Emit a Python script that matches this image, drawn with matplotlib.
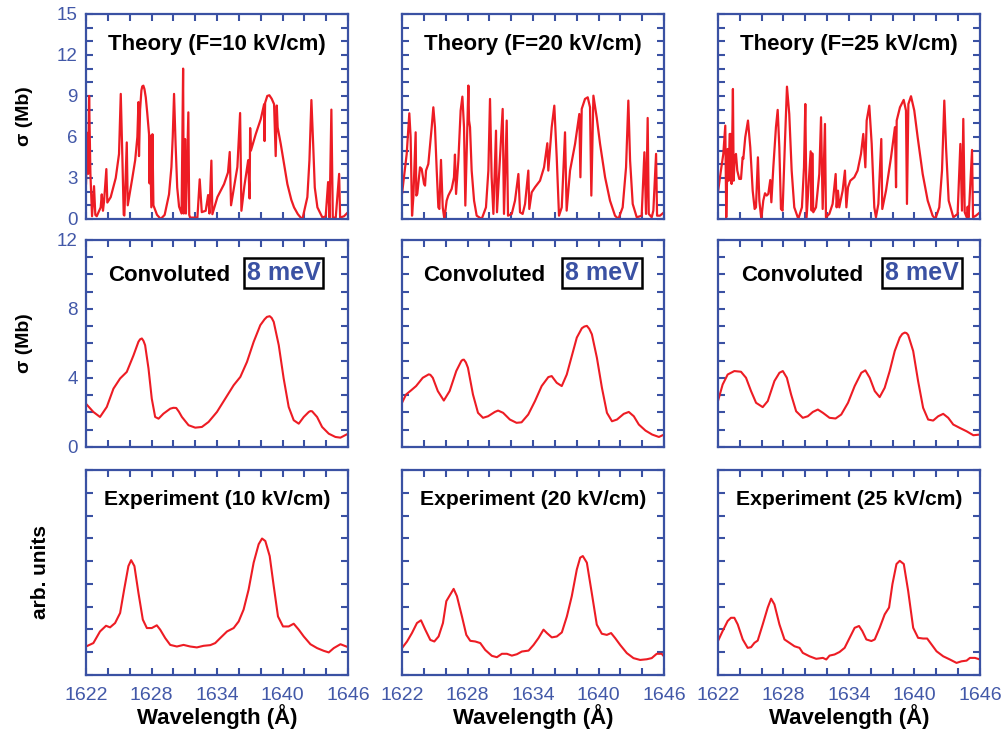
import matplotlib.pyplot as plt
import numpy as np

plt.rcParams['font.family'] = ['Liberation Sans', 'DejaVu Sans']

BLUE = '#3a51a3'
RED = '#ed1c24'

# ---- theory spectra (Mb) ----
wl_th10 = [1622.00, 1622.12, 1622.20, 1622.28, 1622.40, 1622.55, 1622.73, 1622.85, 1622.98, 1623.34,
           1623.44, 1623.55, 1623.65, 1623.86, 1623.95, 1624.26, 1624.72, 1625.02, 1625.18, 1625.33,
           1625.45, 1625.51, 1625.73, 1625.82, 1626.24, 1626.50, 1626.70, 1626.80, 1626.85, 1626.95,
           1627.07, 1627.15, 1627.25, 1627.35, 1627.47, 1627.60, 1627.77, 1627.82, 1627.86, 1627.98,
           1628.08, 1628.17, 1628.50, 1628.84, 1629.20, 1629.60, 1629.82, 1629.94, 1630.06, 1630.20,
           1630.35, 1630.52, 1630.75, 1630.89, 1630.95, 1631.07, 1631.15, 1631.37, 1631.45, 1631.53,
           1632.20, 1632.41, 1632.60, 1632.96, 1633.18, 1633.30, 1633.48, 1633.57, 1634.03, 1634.64,
           1635.00, 1635.16, 1635.28, 1635.86, 1636.11, 1636.23, 1636.50, 1636.85, 1636.98, 1637.03,
           1637.10, 1637.54, 1638.00, 1638.31, 1638.35, 1638.40, 1638.60, 1638.79, 1639.00, 1639.22,
           1639.37, 1639.47, 1639.55, 1639.83, 1640.44, 1640.80, 1641.05, 1641.40, 1641.66, 1641.82,
           1642.27, 1642.46, 1642.64, 1642.80, 1642.95, 1643.19, 1643.65, 1643.95, 1644.17, 1644.30,
           1644.47, 1644.60, 1644.87, 1645.18, 1645.27, 1645.63, 1646.00]
sig_th10 = [2.6, 6.3, 3.3, 9.0, 3.3, 0.2, 2.4, 0.3, 0.2, 0.85,
            1.8, 0.6, 1.3, 3.65, 1.2, 1.6, 3.0, 4.75, 9.15, 4.4,
            0.3, 0.25, 5.6, 1.0, 3.0, 4.3, 6.0, 8.55, 4.6, 8.0,
            9.4, 9.7, 9.75, 9.5, 8.9, 7.8, 6.2, 2.6, 6.1, 0.85,
            6.2, 1.0, 0.3, 0.0, 0.3, 1.8, 3.8, 6.0, 9.15, 5.5,
            2.3, 0.9, 0.4, 11.0, 0.4, 5.85, 0.4, 7.8, 0.3, 0.1,
            0.1, 2.9, 0.5, 0.6, 1.75, 0.4, 4.27, 0.35, 1.6, 2.55,
            3.4, 4.9, 1.0, 3.8, 7.75, 0.6, 2.4, 4.3, 1.5, 6.65,
            5.0, 6.2, 7.3, 8.4, 5.7, 8.5, 9.0, 9.05, 8.8, 8.4,
            4.6, 8.3, 6.7, 5.5, 2.55, 1.4, 0.85, 0.35, 0.1, 0.0,
            1.6, 4.3, 8.7, 5.5, 2.3, 0.85, 0.1, 0.2, 2.7, 0.1,
            8.0, 0.1, 0.1, 3.3, 0.1, 0.2, 0.5]

wl_th20 = [1622.00, 1622.43, 1622.67, 1622.79, 1622.92, 1623.04, 1623.25, 1623.31, 1623.40, 1623.65,
           1623.80, 1624.02, 1624.11, 1624.20, 1624.41, 1624.72, 1624.87, 1625.02, 1625.18, 1625.33,
           1625.42, 1625.57, 1625.73, 1625.88, 1626.09, 1626.24, 1626.55, 1626.76, 1626.85, 1626.95,
           1627.16, 1627.37, 1627.53, 1627.68, 1627.80, 1628.08, 1628.14, 1628.23, 1628.38, 1628.60,
           1628.84, 1629.30, 1629.69, 1629.91, 1630.06, 1630.21, 1630.37, 1630.61, 1630.70, 1631.22,
           1631.34, 1631.59, 1631.71, 1632.05, 1632.35, 1632.66, 1632.81, 1633.05, 1633.27, 1633.57,
           1633.66, 1633.88, 1634.18, 1634.64, 1635.01, 1635.31, 1635.40, 1635.71, 1635.95, 1636.17,
           1636.38, 1636.63, 1636.78, 1636.93, 1637.08, 1637.39, 1637.85, 1638.24, 1638.34, 1638.46,
           1638.76, 1639.01, 1639.22, 1639.34, 1639.53, 1639.83, 1640.14, 1640.60, 1641.05, 1641.51,
           1641.82, 1642.21, 1642.52, 1642.73, 1642.89, 1643.13, 1643.50, 1643.95, 1644.20, 1644.35,
           1644.50, 1644.60, 1644.87, 1645.02, 1645.27, 1645.36, 1645.63, 1646.00]
sig_th20 = [1.83, 4.76, 7.73, 5.98, 0.24, 1.59, 6.34, 1.71, 1.83, 3.78,
            3.66, 2.56, 2.44, 3.54, 4.02, 6.71, 8.17, 6.71, 3.54, 0.85,
            0.73, 4.32, 0.85, 0.0, 1.34, 1.71, 2.20, 3.05, 4.71, 1.83,
            4.27, 7.93, 8.95, 6.71, 0.98, 9.76, 7.2, 6.71, 3.54, 1.34,
            0.24, 0.0, 0.85, 3.54, 8.78, 3.05, 0.37, 6.46, 0.49, 8.05,
            0.37, 7.2, 0.24, 0.37, 1.34, 3.29, 0.49, 0.37, 1.10, 3.54,
            0.73, 1.95, 2.32, 2.80, 3.78, 5.54, 3.54, 6.71, 8.29, 4.51,
            0.24, 0.85, 3.54, 6.34, 0.61, 3.54, 5.49, 7.68, 3.05, 8.05,
            8.78, 8.90, 8.17, 1.71, 9.02, 7.44, 5.49, 3.05, 1.34, 0.24,
            0.0, 0.85, 3.78, 8.66, 4.27, 1.10, 0.12, 0.24, 4.88, 0.37,
            7.39, 0.37, 0.12, 0.61, 4.76, 0.24, 0.24, 0.49]

wl_th25 = [1622.00, 1622.27, 1622.49, 1622.67, 1622.76, 1622.89, 1622.98, 1623.07, 1623.16, 1623.25,
           1623.37, 1623.44, 1623.53, 1623.65, 1623.77, 1623.95, 1624.11, 1624.26, 1624.32, 1624.50,
           1624.75, 1624.96, 1625.18, 1625.36, 1625.48, 1625.66, 1625.79, 1625.97, 1626.15, 1626.31,
           1626.46, 1626.61, 1626.79, 1626.89, 1627.07, 1627.31, 1627.47, 1627.62, 1627.77, 1627.92,
           1628.14, 1628.32, 1628.53, 1628.75, 1628.99, 1629.36, 1629.69, 1629.88, 1630.00, 1630.12,
           1630.49, 1630.58, 1630.64, 1630.73, 1630.98, 1631.28, 1631.44, 1631.59, 1631.80, 1631.89,
           1632.20, 1632.50, 1632.78, 1632.87, 1632.99, 1633.11, 1633.42, 1633.63, 1633.76, 1633.91,
           1634.12, 1634.49, 1634.79, 1635.10, 1635.31, 1635.50, 1635.62, 1635.86, 1636.08, 1636.32,
           1636.47, 1636.69, 1636.96, 1637.05, 1637.39, 1637.85, 1638.21, 1638.31, 1638.37, 1638.67,
           1639.01, 1639.22, 1639.31, 1639.44, 1639.68, 1639.98, 1640.29, 1640.75, 1641.21, 1641.66,
           1641.91, 1642.27, 1642.52, 1642.73, 1642.89, 1643.13, 1643.56, 1643.95, 1644.20, 1644.35,
           1644.47, 1644.60, 1644.78, 1644.87, 1644.96, 1645.27, 1645.36, 1645.63, 1646.00]
sig_th25 = [1.95, 3.54, 4.76, 6.83, 0.12, 5.12, 2.80, 6.22, 6.22, 2.56,
            9.51, 2.80, 4.51, 4.76, 3.54, 2.93, 2.93, 4.51, 4.39, 5.98,
            7.20, 5.24, 2.07, 0.73, 0.85, 4.51, 1.34, 0.0, 1.34, 1.88,
            1.71, 1.83, 2.85, 1.22, 3.78, 6.71, 7.98, 5.24, 0.73, 0.61,
            5.73, 9.68, 7.68, 3.54, 0.85, 0.0, 0.85, 3.78, 8.41, 0.12,
            4.95, 0.61, 4.80, 0.49, 0.85, 3.29, 7.44, 0.73, 6.95, 0.12,
            0.37, 1.10, 3.29, 0.85, 2.07, 0.85, 2.07, 3.54, 0.85, 2.32,
            2.80, 3.05, 3.54, 4.76, 6.22, 3.78, 7.20, 8.29, 5.49, 0.85,
            0.12, 1.10, 5.85, 0.73, 2.07, 4.51, 6.71, 2.32, 7.20, 8.17,
            8.71, 7.93, 1.10, 8.41, 8.98, 7.93, 5.98, 3.29, 1.34, 0.24,
            0.0, 0.85, 3.54, 8.66, 5.24, 1.34, 0.12, 0.37, 5.49, 0.61,
            7.32, 0.49, 0.12, 0.90, 0.12, 5.05, 0.12, 0.24, 0.49]

# ---- convoluted with 8 meV (Mb) ----
wl_cv10 = [1622.00, 1622.67, 1623.28, 1623.90, 1624.51, 1625.12, 1625.73, 1626.34, 1626.80, 1626.95,
           1627.11, 1627.26, 1627.41, 1627.72, 1628.02, 1628.33, 1628.64, 1629.09, 1629.71, 1630.00,
           1630.26, 1630.50, 1630.78, 1631.39, 1632.00, 1632.61, 1633.22, 1633.99, 1634.75, 1635.52,
           1636.13, 1636.74, 1637.35, 1637.96, 1638.35, 1638.57, 1638.82, 1639.00, 1639.19, 1639.65,
           1640.10, 1640.56, 1641.02, 1641.48, 1641.94, 1642.40, 1642.55, 1642.70, 1643.16, 1643.62,
           1644.23, 1644.84, 1645.30, 1646.00]
sig_cv10 = [2.50, 2.03, 1.74, 2.32, 3.38, 3.97, 4.35, 5.30, 6.10, 6.24,
            6.29, 6.15, 5.90, 4.55, 2.80, 1.74, 1.64, 1.93, 2.22, 2.27,
            2.26, 2.05, 1.74, 1.26, 1.12, 1.16, 1.45, 2.03, 2.80, 3.58,
            4.06, 4.93, 6.09, 7.06, 7.40, 7.54, 7.58, 7.48, 7.25, 5.90,
            3.97, 2.32, 1.55, 1.35, 1.74, 2.03, 2.08, 2.07, 1.74, 1.16,
            0.77, 0.58, 0.54, 0.77]

wl_cv20 = [1622.00, 1622.37, 1622.83, 1623.29, 1623.90, 1624.45, 1624.60, 1624.82, 1625.28, 1625.83,
           1626.36, 1626.97, 1627.43, 1627.55, 1627.67, 1627.85, 1628.04, 1628.50, 1628.96, 1629.42,
           1629.88, 1630.50, 1630.80, 1631.26, 1631.88, 1632.49, 1632.95, 1633.56, 1634.18, 1634.79,
           1635.40, 1635.71, 1636.17, 1636.63, 1637.09, 1637.55, 1638.01, 1638.47, 1638.70, 1638.93,
           1639.15, 1639.39, 1639.85, 1640.31, 1640.77, 1641.23, 1641.69, 1642.31, 1642.77, 1643.23,
           1643.69, 1644.30, 1644.91, 1645.53, 1646.00]
sig_cv20 = [2.56, 3.04, 3.28, 3.53, 4.01, 4.21, 4.18, 4.01, 3.24, 2.69,
            3.24, 4.40, 4.98, 5.05, 5.06, 4.90, 4.59, 3.04, 1.98, 1.69,
            1.78, 2.03, 2.11, 1.98, 1.59, 1.40, 1.43, 1.88, 2.66, 3.53,
            4.05, 4.11, 3.72, 3.53, 4.20, 5.27, 6.34, 6.88, 6.98, 7.02,
            6.85, 6.53, 5.17, 3.43, 1.98, 1.49, 1.59, 1.92, 2.03, 1.78,
            1.30, 0.95, 0.72, 0.58, 0.72]

wl_cv25 = [1622.00, 1622.43, 1622.89, 1623.50, 1624.11, 1624.57, 1625.03, 1625.49, 1626.10, 1626.56,
           1627.17, 1627.63, 1627.94, 1628.31, 1628.70, 1629.16, 1629.77, 1630.23, 1630.69, 1631.15,
           1631.61, 1632.22, 1632.77, 1633.29, 1633.91, 1634.52, 1635.13, 1635.50, 1635.90, 1636.36,
           1636.81, 1637.27, 1637.73, 1638.19, 1638.65, 1638.88, 1639.11, 1639.27, 1639.42, 1639.88,
           1640.33, 1640.79, 1641.25, 1641.71, 1642.17, 1642.63, 1643.09, 1643.55, 1644.16, 1644.77,
           1645.39, 1646.00]
sig_cv25 = [2.66, 3.62, 4.20, 4.40, 4.36, 4.01, 3.24, 2.56, 2.31, 2.66,
            3.82, 4.30, 4.40, 4.01, 3.04, 2.07, 1.69, 1.78, 2.03, 2.17,
            1.98, 1.69, 1.65, 1.88, 2.56, 3.53, 4.30, 4.44, 4.01, 3.24,
            2.89, 3.43, 4.40, 5.56, 6.34, 6.55, 6.63, 6.60, 6.49, 5.56,
            3.82, 2.27, 1.59, 1.53, 1.78, 1.92, 1.69, 1.30, 1.10, 0.91,
            0.68, 0.72]

# ---- measured spectra (arb. units) ----
wl_ex10 = [1622.00, 1622.67, 1623.28, 1623.83, 1624.20, 1624.66, 1625.12, 1625.49, 1625.88, 1626.13,
           1626.43, 1626.80, 1627.20, 1627.57, 1628.02, 1628.48, 1628.79, 1629.25, 1629.71, 1630.32,
           1630.93, 1631.54, 1632.15, 1632.76, 1633.38, 1633.83, 1634.29, 1634.91, 1635.52, 1635.98,
           1636.43, 1636.89, 1637.35, 1637.81, 1638.12, 1638.42, 1638.82, 1639.19, 1639.58, 1640.04,
           1640.56, 1641.02, 1641.48, 1641.94, 1642.55, 1643.16, 1643.77, 1644.23, 1644.69, 1645.30,
           1646.00]
int_ex10 = [1.25, 1.40, 1.91, 2.16, 2.09, 2.28, 2.72, 3.75, 4.78, 5.04,
            4.78, 3.60, 2.43, 2.06, 2.06, 2.18, 1.99, 1.62, 1.32, 1.25,
            1.32, 1.25, 1.21, 1.28, 1.31, 1.40, 1.62, 1.91, 2.06, 2.35,
            2.87, 3.75, 4.93, 5.74, 5.99, 5.88, 5.22, 3.90, 2.57, 2.13,
            2.13, 2.25, 1.99, 1.69, 1.35, 1.18, 1.06, 0.99, 1.18, 1.35,
            1.22]

wl_ex20 = [1622.00, 1622.46, 1622.91, 1623.37, 1623.74, 1624.13, 1624.59, 1624.96, 1625.35, 1625.75,
           1626.06, 1626.42, 1626.73, 1627.03, 1627.49, 1627.89, 1628.25, 1628.71, 1629.17, 1629.62,
           1630.23, 1630.69, 1631.15, 1631.61, 1632.06, 1632.52, 1632.98, 1633.59, 1634.05, 1634.50,
           1634.96, 1635.27, 1635.72, 1636.18, 1636.64, 1637.10, 1637.55, 1638.01, 1638.32, 1638.56,
           1638.93, 1639.38, 1639.84, 1640.30, 1640.76, 1641.15, 1641.52, 1641.98, 1642.59, 1643.20,
           1643.81, 1644.42, 1644.87, 1645.33, 1645.79, 1646.00]
int_ex20 = [1.18, 1.47, 1.84, 2.28, 2.40, 1.99, 1.54, 1.47, 1.69, 2.28,
            3.24, 3.53, 3.78, 3.46, 2.57, 1.76, 1.50, 1.47, 1.40, 1.10,
            0.84, 0.78, 0.93, 0.93, 0.85, 0.91, 1.03, 1.07, 1.32, 1.62,
            1.99, 1.84, 1.65, 1.69, 1.87, 2.57, 3.46, 4.63, 5.15, 5.22,
            4.93, 3.60, 2.21, 1.81, 1.76, 1.84, 1.62, 1.32, 0.96, 0.74,
            0.66, 0.69, 0.74, 0.93, 0.93, 0.81]

wl_ex25 = [1622.00, 1622.43, 1622.89, 1623.19, 1623.50, 1623.81, 1624.27, 1624.72, 1625.03, 1625.34,
           1625.64, 1626.10, 1626.56, 1626.87, 1627.17, 1627.63, 1628.09, 1628.55, 1629.01, 1629.47,
           1629.77, 1630.39, 1631.00, 1631.61, 1631.92, 1632.22, 1632.68, 1633.14, 1633.60, 1634.06,
           1634.52, 1634.92, 1635.22, 1635.59, 1636.05, 1636.36, 1636.81, 1637.27, 1637.67, 1637.98,
           1638.35, 1638.65, 1639.02, 1639.42, 1639.88, 1640.33, 1640.79, 1641.16, 1641.56, 1642.02,
           1642.63, 1643.24, 1643.85, 1644.31, 1644.77, 1645.08, 1645.54, 1646.00]
int_ex25 = [1.49, 1.93, 2.37, 2.51, 2.51, 2.22, 1.56, 1.19, 1.22, 1.41,
            1.51, 2.22, 2.96, 3.35, 3.10, 2.22, 1.56, 1.41, 1.26, 1.19,
            0.97, 0.82, 0.71, 0.75, 0.68, 0.85, 0.90, 1.01, 1.19, 1.63,
            2.07, 2.15, 1.93, 1.56, 1.49, 1.56, 2.07, 2.66, 2.96, 3.99,
            4.87, 5.01, 4.87, 3.69, 2.07, 1.63, 1.60, 1.60, 1.34, 1.04,
            0.82, 0.68, 0.53, 0.60, 0.63, 0.75, 0.75, 0.68]

fields = ['10', '20', '25']
theory = [(wl_th10, sig_th10), (wl_th20, sig_th20), (wl_th25, sig_th25)]
convol = [(wl_cv10, sig_cv10), (wl_cv20, sig_cv20), (wl_cv25, sig_cv25)]
expt = [(wl_ex10, int_ex10), (wl_ex20, int_ex20), (wl_ex25, int_ex25)]

xticks = np.arange(1622, 1647, 2)
xlabels = [str(v) if (v - 1622) % 6 == 0 else '' for v in xticks]

fig = plt.figure(figsize=(10.04, 7.41), dpi=100)

col_left = [0.0857, 0.4004, 0.7151]
col_w = 0.261
rows = [(0.7045, 0.2767), (0.3968, 0.2794), (0.0891, 0.2767)]


def setup(ax, ymax, ylab_step, show_y, show_x):
    ax.set_xlim(1622, 1646)
    ax.set_ylim(0, ymax)
    ax.set_xticks(xticks)
    ax.set_xticklabels(xlabels if show_x else [])
    yt = np.arange(0, ymax + 1, 1)
    ax.set_yticks(yt)
    if show_y and ylab_step:
        ax.set_yticklabels([str(v) if v % ylab_step == 0 else '' for v in yt])
    else:
        ax.set_yticklabels([])
    ax.tick_params(direction='in', top=True, right=True, length=5, width=1.5,
                   color=BLUE, labelcolor='#4258a8')
    ax.tick_params(axis='x', labelsize=14, pad=9)
    ax.tick_params(axis='y', labelsize=13.5, pad=6)
    for s in ax.spines.values():
        s.set_color(BLUE)
        s.set_linewidth(1.6)


conv_text_x = [0.318, 0.313, 0.322]
box_x = [0.754, 0.763, 0.779]

for j in range(3):
    # theory row
    ax = fig.add_axes([col_left[j], rows[0][0], col_w, rows[0][1]])
    setup(ax, 15, 3, j == 0, False)
    ax.plot(theory[j][0], theory[j][1], color=RED, lw=1.6)
    ax.text(0.5, 0.85, 'Theory (F=%s kV/cm)' % fields[j], transform=ax.transAxes,
            ha='center', va='center', fontsize=16, fontweight='bold')

    # convoluted row
    ax = fig.add_axes([col_left[j], rows[1][0], col_w, rows[1][1]])
    setup(ax, 12, 4, j == 0, False)
    ax.plot(convol[j][0], convol[j][1], color=RED, lw=1.5)
    ax.text(conv_text_x[j], 0.83, 'Convoluted', transform=ax.transAxes,
            ha='center', va='center', fontsize=16, fontweight='bold')
    ax.text(box_x[j], 0.84, '8 meV', transform=ax.transAxes, ha='center', va='center',
            fontsize=18, fontweight='bold', color=BLUE,
            bbox=dict(boxstyle='square,pad=0.12', fc='white', ec='black', lw=1.8))

    # experiment row
    ax = fig.add_axes([col_left[j], rows[2][0], col_w, rows[2][1]])
    setup(ax, 9, None, False, True)
    ax.plot(expt[j][0], expt[j][1], color=RED, lw=1.5)
    ax.text(0.5, 0.855, 'Experiment (%s kV/cm)' % fields[j], transform=ax.transAxes,
            ha='center', va='center', fontsize=15.2, fontweight='bold')
    ax.set_xlabel('Wavelength (Å)', fontsize=16, fontweight='bold', labelpad=0)

fig.text(25 / 1004, 1 - 116.5 / 741, 'σ (Mb)', rotation=90, ha='center', va='center',
         fontsize=14, fontweight='bold')
fig.text(25 / 1004, 1 - 343.5 / 741, 'σ (Mb)', rotation=90, ha='center', va='center',
         fontsize=14, fontweight='bold')
fig.text(41 / 1004, 1 - 572 / 741, 'arb. units', rotation=90, ha='center', va='center',
         fontsize=15, fontweight='bold')

fig.savefig('out.png', dpi=100, facecolor='white')
